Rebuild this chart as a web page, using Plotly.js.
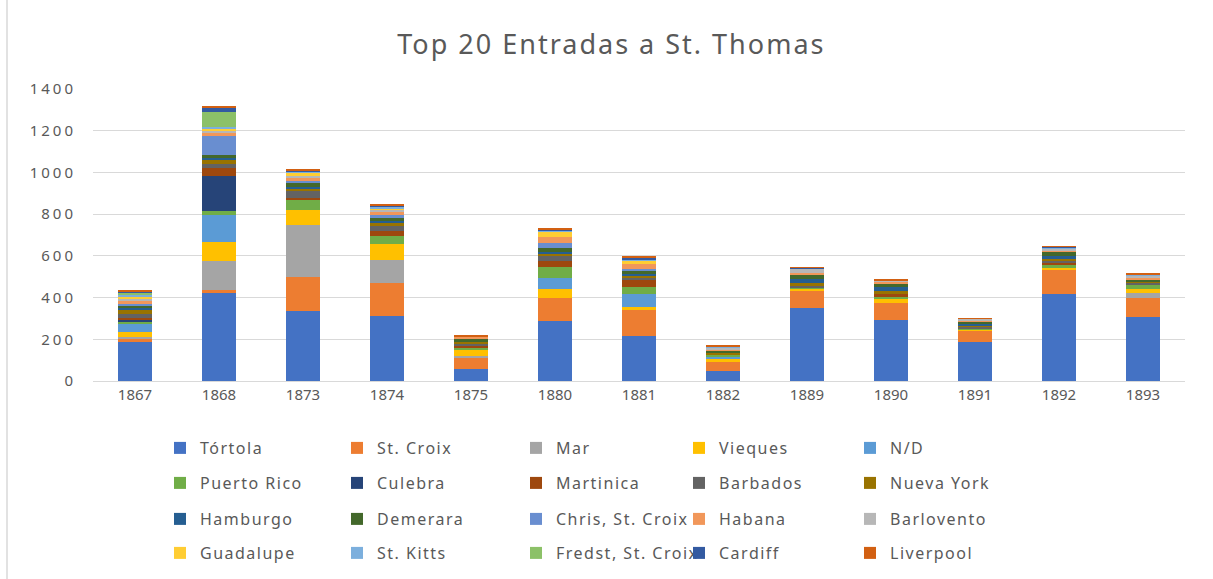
<!DOCTYPE html>
<html>
<head>
<meta charset="utf-8">
<script src="https://cdn.plot.ly/plotly-3.0.1.min.js"></script>
<style>
html,body{margin:0;padding:0;background:#fff;}
#chart{width:1213px;height:579px;}
#chart .ytick text{letter-spacing:3px;}
#chart .legendtext{letter-spacing:1.5px;}
#chart .gtitle{letter-spacing:2px;}
</style>
</head>
<body>
<div id="chart"></div>
<script>
const years = ['1867','1868','1873','1874','1875','1880','1881','1882','1889','1890','1891','1892','1893'];

const seriesNames = ['Tórtola','St. Croix','Mar','Vieques','N/D','Puerto Rico','Culebra','Martinica','Barbados','Nueva York','Hamburgo','Demerara','Chris, St. Croix','Habana','Barlovento','Guadalupe','St. Kitts','Fredst, St. Croix','Cardiff','Liverpool'];

const tortola     = [185, 420, 336, 312, 58, 288, 218, 50, 348, 292, 187, 418, 305];
const stCroix     = [15, 15, 165, 157, 50, 109, 123, 43, 85, 80, 54, 112, 94];
const mar         = [12, 141, 245, 112, 10, 0, 0, 0, 0, 0, 0, 0, 21];
const vieques     = [22, 91, 75, 77, 32, 43, 13, 11, 10, 24, 5, 10, 19];
const nd          = [40, 128, 0, 0, 0, 53, 64, 12, 0, 0, 0, 0, 0];
const puertoRico  = [8, 19, 48, 38, 10, 54, 35, 10, 6, 5, 8, 14, 21];
const culebra     = [10, 168, 0, 0, 0, 0, 0, 0, 0, 0, 0, 0, 0];
const martinica   = [12, 40, 8, 21, 11, 26, 29, 0, 0, 18, 0, 10, 0];
const barbados    = [15, 18, 32, 27, 8, 27, 15, 0, 8, 0, 5, 10, 10];
const nuevaYork   = [20, 22, 11, 13, 8, 11, 8, 8, 15, 14, 8, 12, 5];
const hamburgo    = [10, 8, 10, 10, 0, 8, 6, 0, 16, 16, 6, 12, 0];
const demerara    = [12, 13, 19, 19, 16, 21, 20, 13, 20, 16, 12, 20, 14];
const chrisStCroix= [10, 93, 11, 8, 0, 22, 5, 0, 0, 0, 0, 0, 0];
const habana      = [12, 16, 15, 15, 8, 27, 24, 4, 10, 10, 5, 10, 6];
const barlovento  = [10, 5, 8, 12, 3, 0, 0, 9, 22, 6, 10, 8, 13];
const guadalupe   = [10, 14, 17, 8, 0, 26, 19, 0, 0, 0, 0, 0, 0];
const stKitts     = [8, 5, 3, 8, 0, 5, 5, 5, 0, 0, 0, 3, 4];
const fredst      = [12, 76, 0, 0, 0, 0, 0, 0, 0, 0, 0, 0, 0];
const cardiff     = [5, 16, 5, 4, 0, 8, 8, 0, 3, 3, 0, 4, 0];
const liverpool   = [6, 10, 5, 6, 3, 5, 3, 3, 2, 2, 2, 2, 2];

const seriesValues = [tortola, stCroix, mar, vieques, nd, puertoRico, culebra, martinica, barbados, nuevaYork, hamburgo, demerara, chrisStCroix, habana, barlovento, guadalupe, stKitts, fredst, cardiff, liverpool];

const colors = ['#4472C4','#ED7D31','#A5A5A5','#FFC000','#5B9BD5','#70AD47','#264478','#9E480E','#636363','#997300','#255E91','#43682B','#698ED0','#F1975A','#B7B7B7','#FFCD33','#7CAFDD','#8CC168','#335AA1','#D26012'];

const legendIds = ['legend','legend2','legend3','legend4'];
const columnWidths = [132, 134, 118, 126, 126];

const traces = seriesNames.map((name, i) => ({
  type: 'bar',
  name: name,
  x: years,
  y: seriesValues[i],
  marker: {color: colors[i], line: {width: 0}},
  legend: legendIds[Math.floor(i / 5)],
  legendwidth: columnWidths[i % 5],
  hoverinfo: 'x+y+name'
}));

const plotTop = 89, plotBottom = 381, plotLeft = 93, plotRight = 1185;
const ph = plotBottom - plotTop, pw = plotRight - plotLeft;
const rowY = [448, 483, 519, 553];
const fontFam = 'Noto Sans, DejaVu Sans, sans-serif';

function legendAt(py) {
  return {
    orientation: 'h',
    x: (160 - plotLeft) / pw,
    xanchor: 'left',
    y: (plotBottom - py) / ph,
    yanchor: 'middle',
    traceorder: 'normal',
    entrywidth: 130,
    entrywidthmode: 'pixels',
    itemclick: false,
    font: {family: fontFam, size: 16, color: '#595959'},
    bgcolor: 'rgba(0,0,0,0)'
  };
}

const layout = {
  width: 1213,
  height: 579,
  margin: {l: plotLeft, r: 1213 - plotRight, t: plotTop, b: 579 - plotBottom, autoexpand: false},
  paper_bgcolor: '#ffffff',
  plot_bgcolor: '#ffffff',
  barmode: 'stack',
  bargap: 0.6,
  title: {
    text: 'Top 20 Entradas a St. Thomas',
    font: {family: fontFam, size: 27, color: '#595959'},
    xref: 'container', x: 0.504, xanchor: 'center',
    yref: 'container', y: 1 - 45 / 579, yanchor: 'middle'
  },
  xaxis: {
    type: 'category',
    tickfont: {family: fontFam, size: 15, color: '#595959'},
    showline: true, linecolor: '#D9D9D9', linewidth: 1,
    ticks: '', ticklen: 0,
    showgrid: false,
    automargin: false
  },
  yaxis: {
    range: [0, 1400],
    dtick: 200,
    tickfont: {family: fontFam, size: 15, color: '#595959'},
    gridcolor: '#D9D9D9', gridwidth: 1,
    zeroline: false,
    showline: false,
    ticks: '',
    ticklabelstandoff: 16,
    automargin: false
  },
  legend: legendAt(rowY[0]),
  legend2: legendAt(rowY[1]),
  legend3: legendAt(rowY[2]),
  legend4: legendAt(rowY[3]),
  shapes: [{
    type: 'line', xref: 'paper', yref: 'paper',
    x0: (7 - plotLeft) / pw, x1: (7 - plotLeft) / pw,
    y0: (plotBottom - 579) / ph, y1: (plotBottom - 0) / ph,
    line: {color: '#D9D9D9', width: 1.5}
  }],
  hovermode: 'closest',
  showlegend: true
};

function spaceLegendText() {
  document.querySelectorAll('#chart .infolayer text').forEach(t => {
    if (t.classList.contains('legendtext') || (t.parentNode && t.parentNode.closest && t.parentNode.closest('.traces'))) {
      t.style.letterSpacing = '1.5px';
    }
  });
}

Plotly.newPlot('chart', traces, layout, {displayModeBar: false, responsive: false}).then(gd => {
  spaceLegendText();
  gd.on('plotly_afterplot', spaceLegendText);
});
</script>
</body>
</html>
